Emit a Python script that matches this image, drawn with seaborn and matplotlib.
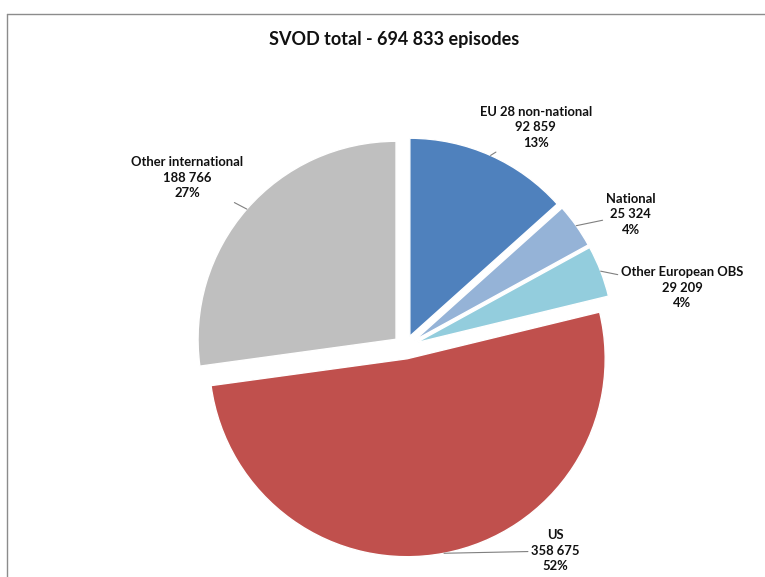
import numpy as np
import matplotlib
matplotlib.use("Agg")
import matplotlib.pyplot as plt
import seaborn as sns

# data (clockwise from 12 o'clock)
categories = ["EU 28 non-national", "National", "Other European OBS", "US", "Other international"]
episodes = [92859, 25324, 29209, 358675, 188766]
total_label = "SVOD total - 694 833 episodes"

colors = sns.color_palette(["#4F81BD", "#95B3D7", "#93CDDD", "#C0504D", "#BFBFBF"])

# label text centres (axes data units, pie radius = 1)
label_pos = [(0.66, 1.11), (1.14, 0.67), (1.40, 0.30), (0.76, -1.03), (-1.10, 0.855)]

sns.set_theme(style="white")
plt.rcParams["font.family"] = ["Lato", "DejaVu Sans"]

fig = plt.figure(figsize=(7.65, 5.77), dpi=100)
ax = fig.add_axes([0.2059, -0.0305, 0.647, 0.858])

explode = [0.06] * len(episodes)
wedges, _ = ax.pie(episodes, colors=colors, startangle=90, counterclock=False,
                   explode=explode, radius=1.0)
ax.set_xlim(-1.25, 1.25)
ax.set_ylim(-1.25, 1.25)
ax.set_aspect("equal")
ax.axis("off")

total = sum(episodes)
for w, name, val, pos in zip(wedges, categories, episodes, label_pos):
    mid = np.deg2rad((w.theta1 + w.theta2) / 2)
    cx, cy = w.center
    edge = (cx + w.r * np.cos(mid), cy + w.r * np.sin(mid))
    txt = f"{name}\n{val:,}".replace(",", " ") + f"\n{round(val / total * 100):.0f}%"
    ax.annotate(txt, xy=edge, xytext=pos, ha="center", va="center",
                fontsize=9.4, fontweight="bold", color="#111111", linespacing=1.35,
                annotation_clip=False,
                arrowprops=dict(arrowstyle="-", color="#808080", lw=0.8,
                                shrinkA=0, shrinkB=0))

fig.text(394 / 765, 1 - 40 / 577, total_label, ha="center", va="center",
         fontsize=13, fontweight="bold", color="#111111")

# chart frame (top and left edge visible)
fig.add_artist(plt.Line2D([7 / 765, 1], [1 - 14 / 577] * 2, color="#8c8c8c", lw=1))
fig.add_artist(plt.Line2D([7 / 765] * 2, [0, 1 - 14 / 577], color="#8c8c8c", lw=1))

fig.savefig("out.png", dpi=100, facecolor="white")
